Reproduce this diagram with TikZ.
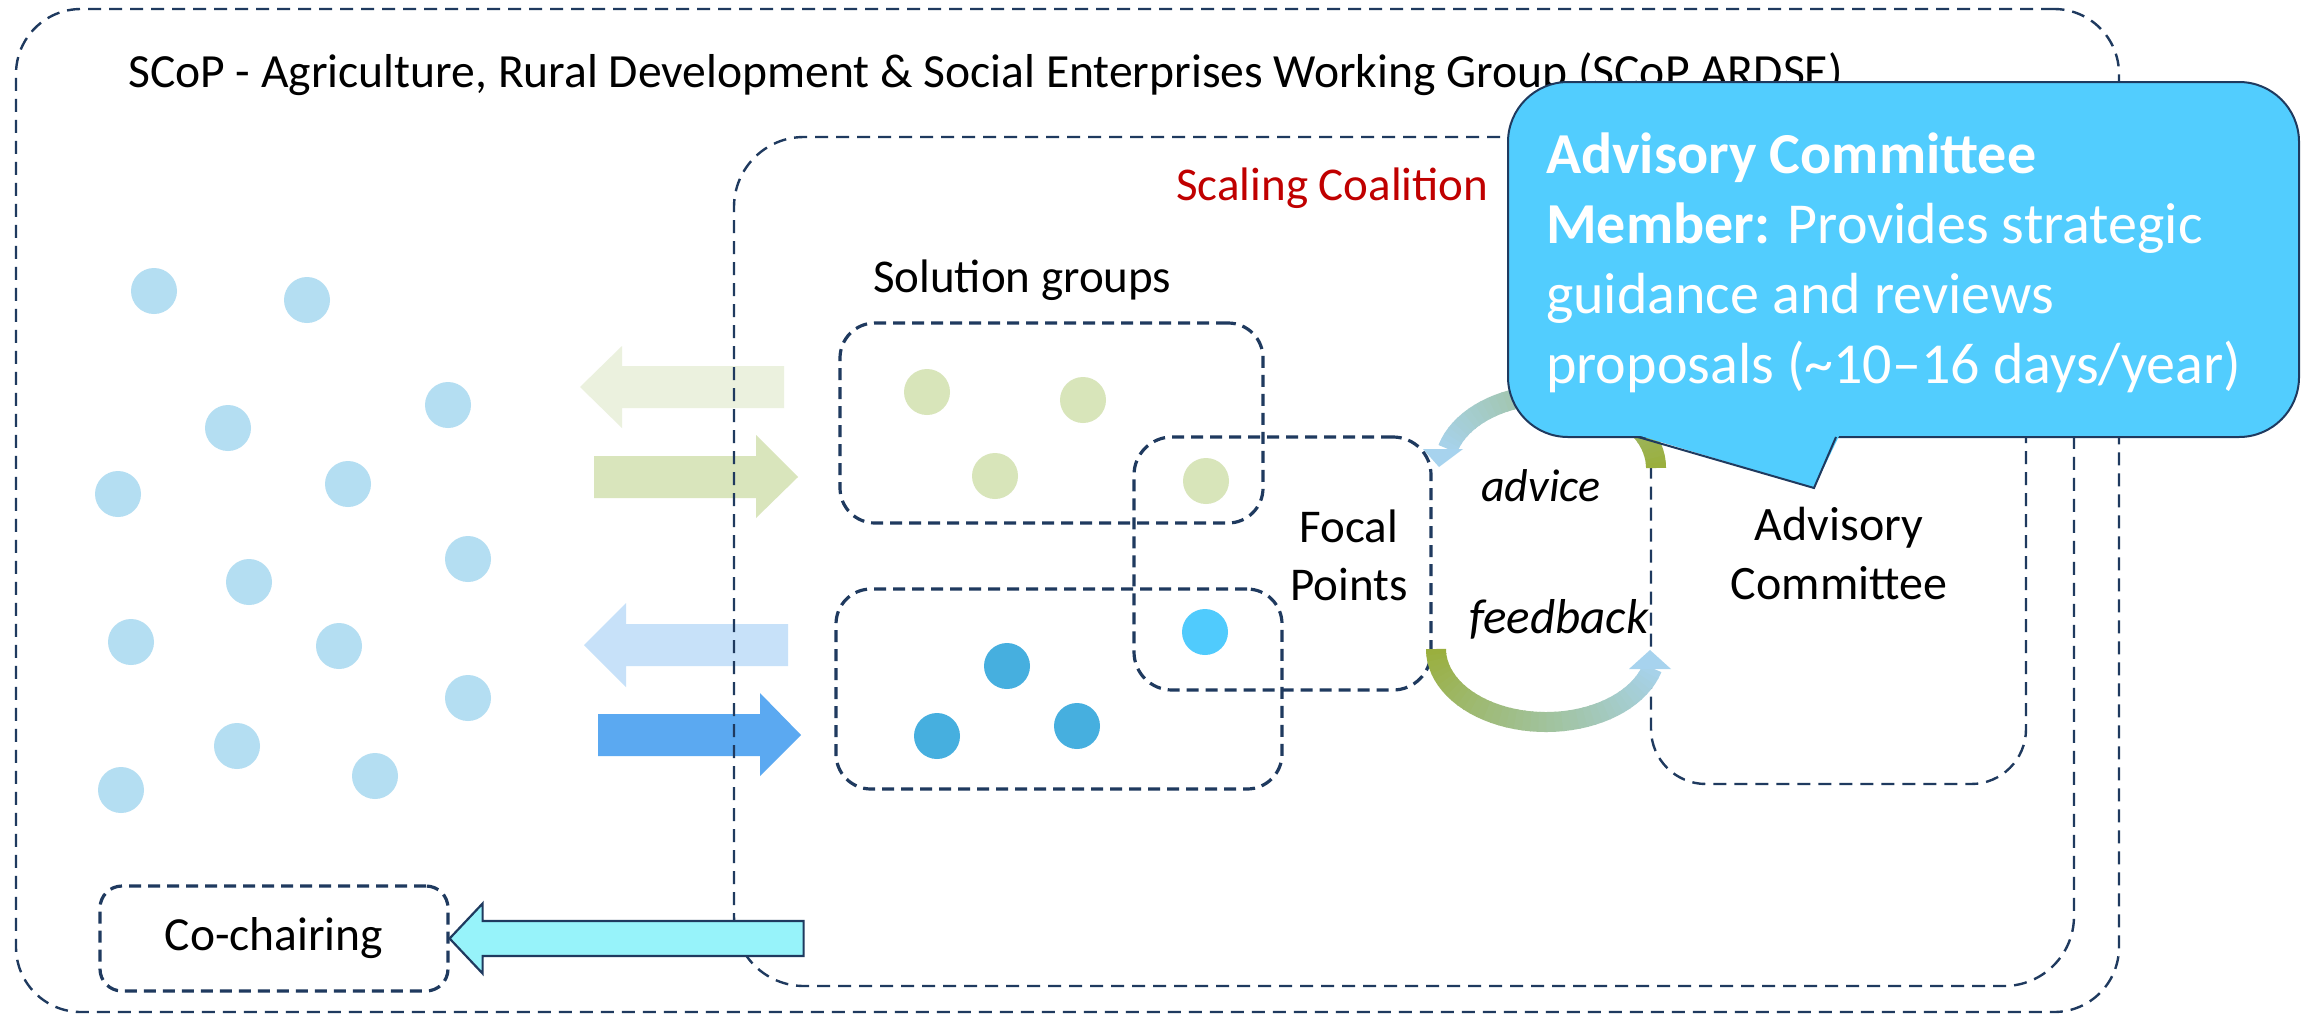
\documentclass[tikz,border=0pt]{standalone}
\usepackage{fontspec}
\setmainfont{Carlito}
\definecolor{navy}{HTML}{1F3A5F}
\definecolor{scred}{HTML}{C00000}
\definecolor{callcyan}{HTML}{52CDFE}
\definecolor{chairfill}{HTML}{97F3FA}
\definecolor{arrA}{HTML}{EBF1DE}
\definecolor{arrB}{HTML}{D9E5BC}
\definecolor{arrC}{HTML}{C7E1F9}
\definecolor{arrD}{HTML}{5BA9F1}
\definecolor{dotL}{HTML}{B4DEF2}
\definecolor{dotG}{HTML}{D8E5BA}
\definecolor{dotB}{HTML}{46AFDF}
\definecolor{dotF}{HTML}{50CBFD}
\definecolor{arrgreen}{HTML}{9AAF3E}
\definecolor{arrblue}{HTML}{A7D3EE}
\begin{document}
\begin{tikzpicture}[x=1pt,y=-1pt,
  thinbox/.style={draw=navy, line width=2.4pt, dash pattern=on 13pt off 8pt, rectangle, inner sep=0pt},
  boldbox/.style={draw=navy, line width=3.2pt, dash pattern=on 12pt off 7pt, rectangle, inner sep=0pt},
  lbl/.style={inner sep=0pt, font=\fontsize{47}{58}\selectfont},
]
\fill[white] (0,0) rectangle (2301,1015);
\useasboundingbox (0,0) rectangle (2301,1015);

% block arrows (behind boxes)
\fill[arrA] (784,366) -- (622,366) -- (622,346) -- (580,387) -- (622,428) -- (622,408) -- (784,408) -- cycle;
\fill[arrB] (594,456) -- (756,456) -- (756,435) -- (798,477) -- (756,518) -- (756,498) -- (594,498) -- cycle;
\fill[arrC] (788,624) -- (626,624) -- (626,603) -- (584,645) -- (626,687) -- (626,666) -- (788,666) -- cycle;
\fill[arrD] (598,714) -- (760,714) -- (760,693) -- (801,735) -- (760,776) -- (760,756) -- (598,756) -- cycle;

% boxes
\node[thinbox, rounded corners=65pt, minimum width=2103pt, minimum height=1003pt] (scop) at (1067.5,510.5) {};
\node[thinbox, rounded corners=70pt, minimum width=1340pt, minimum height=849pt] (coal) at (1404,561.5) {};
\node[boldbox, rounded corners=35pt, minimum width=423pt, minimum height=200pt] (sol1) at (1051.5,423) {};
\node[boldbox, rounded corners=35pt, minimum width=446pt, minimum height=200pt] (sol2) at (1059,689) {};
\node[boldbox, rounded corners=38pt, minimum width=297pt, minimum height=253pt] (focal) at (1282.5,563.5) {};
\node[thinbox, rounded corners=55pt, minimum width=375pt, minimum height=484pt] (acbox) at (1838.5,542) {};
\node[boldbox, rounded corners=22pt, minimum width=348pt, minimum height=105pt, font=\fontsize{47.5}{56}\selectfont] (cochair) at (274,938.5) {Co-chairing};

% member dots
\foreach \x/\y in {154/291,307/300,448/405,228/428,118/494,348/484,468/559,249/582,131/642,339/646,468/698,237/746,375/776,121/790}
  \fill[dotL] (\x,\y) circle (23);
\foreach \x/\y in {927/392,1083/400,995/476,1206/481}
  \fill[dotG] (\x,\y) circle (23);
\foreach \x/\y in {1007/666,937/736,1077/726}
  \fill[dotB] (\x,\y) circle (23);
\fill[dotF] (1205,632) circle (23);

% co-chairing arrow
\draw[fill=chairfill, draw=navy, line width=2.2pt, line join=miter]
  (cochair.east) -- ++(33,-35) -- ++(0,17.5) -- ++(321,0) -- ++(0,35) -- ++(-321,0) -- ++(0,17.5) -- cycle;

% texts
\node[lbl, anchor=base west, font=\fontsize{47.6}{56}\selectfont] (title) at (128,87)
  {SCoP - Agriculture, Rural Development \& Social Enterprises Working Group (SCoP ARDSE)};
\node[lbl, anchor=base west, text=scred] (coaltitle) at (1176,200) {Scaling Coalition};
\node[lbl, anchor=base west] (soltitle) at (873,292) {Solution groups};
\node[lbl, anchor=north, align=center] (focaltxt) at (1349,510) {Focal\\Points};
\node[lbl, anchor=north, align=center, font=\fontsize{48}{59}\selectfont] (actxt) at (1839,507) {Advisory\\Committee};
\node[lbl, anchor=base west, font=\fontsize{46}{53}\itshape] (advice) at (1481,501) {advice};
\node[lbl, anchor=base west, font=\fontsize{49}{53}\itshape] (feedback) at (1469,633) {feedback};

% feedback arrow (focal -> advisory committee)
\foreach \i in {0,...,39}{
  \pgfmathsetmacro\ta{180-\i*4.1}
  \pgfmathsetmacro\tb{\ta-4.9}
  \pgfmathtruncatemacro\p{\i*2.5}
  \draw[line width=20pt, arrblue!\p!arrgreen] plot[domain=\tb:\ta, samples=4, variable=\t] ({1546+110*cos(\t)},{649+73*sin(\t)});
}
\fill[arrblue] (1629,669) -- (1650,650) -- (1671,669) -- cycle;

% advice arrow (advisory committee -> focal)
\foreach \i in {0,...,39}{
  \pgfmathsetmacro\ta{\i*4.1}
  \pgfmathsetmacro\tb{\ta+4.9}
  \pgfmathtruncatemacro\p{\i*2.5}
  \draw[line width=20pt, arrblue!\p!arrgreen] plot[domain=\ta:\tb, samples=4, variable=\t] ({1550+106*cos(\t)},{468-73*sin(\t)});
}
\fill[arrblue] (1423,449) -- (1463,449) -- (1439,467) -- cycle;

% callout
\draw[fill=callcyan, draw=navy, line width=2pt, rounded corners=60pt] (1508,82) rectangle (2299,437);
\fill[callcyan] (1634,434) -- (1814,488) -- (1840,434) -- cycle;
\draw[navy, line width=2pt, line join=miter] (1638,437) -- (1814,488) -- (1836,437);
\node[inner sep=0pt, anchor=north west, align=left, text=white, font=\fontsize{58}{70}\selectfont] (callout) at (1546,133)
  {\textbf{Advisory Committee}\\\textbf{Member:} Provides strategic\\guidance and reviews\\proposals (\textasciitilde10–16 days/year)};
\end{tikzpicture}
\end{document}
